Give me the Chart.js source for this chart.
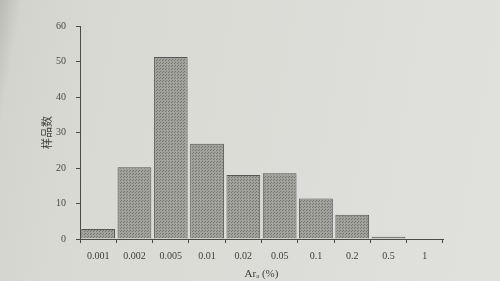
<!DOCTYPE html>
<html>
<head>
<meta charset="utf-8">
<script src="https://cdn.jsdelivr.net/npm/chart.js@4"></script>
<style>
  html, body { margin: 0; padding: 0; }
  body {
    width: 500px; height: 281px; overflow: hidden;
    background: linear-gradient(100deg, #b9bab2 0px, #d3d4cd 22px, #d9dad4 120px, #dcddd8 330px, #e0e1dd 500px);
  }
  #wrap { position: relative; width: 500px; height: 281px; }
</style>
</head>
<body>
<div id="wrap"><canvas id="hist" width="500" height="281"></canvas></div>
<script>
// categories (Ar_a, %)
const categories = ['0.001', '0.002', '0.005', '0.01', '0.02', '0.05', '0.1', '0.2', '0.5', '1'];
// sample counts
const counts = [2.8, 20.2, 51.3, 26.8, 18, 18.5, 11.4, 6.8, 0.6, 0];
const yTicks = [0, 10, 20, 30, 40, 50, 60];

// dotted grey fill like the print
function dotPattern() {
  const c = document.createElement('canvas');
  c.width = 3; c.height = 3;
  const g = c.getContext('2d');
  g.fillStyle = '#a2a29d';
  g.fillRect(0, 0, 3, 3);
  g.fillStyle = '#76766f';
  g.fillRect(0, 0, 1, 1);
  g.fillRect(1, 2, 1, 1);
  return g.createPattern(c, 'repeat');
}

const ink = '#4a4a48';
const serif = "'Liberation Serif', 'DejaVu Serif', serif";

const ctx = document.getElementById('hist').getContext('2d');
const hist = new Chart(ctx, {
  type: 'bar',
  data: {
    labels: categories,
    datasets: [{
      data: counts,
      backgroundColor: dotPattern(),
      borderColor: '#555553',
      borderWidth: 1,
      barPercentage: 0.93,
      categoryPercentage: 1
    }]
  },
  options: {
    responsive: false,
    animation: false,
    layout: { padding: { left: 36, right: 57, top: 26, bottom: 0 } },
    plugins: { legend: { display: false }, tooltip: { enabled: false } },
    scales: {
      x: {
        offset: true,
        grid: { offset: true, drawOnChartArea: false, drawTicks: true, tickLength: 4, color: ink },
        border: { color: ink, width: 1 },
        ticks: { color: '#3e3e3c', padding: 7, autoSkip: false, font: { family: serif, size: 10 }, maxRotation: 0 },
        title: {
          display: true, text: 'Arₐ (%)', color: '#3e3e3c',
          font: { family: serif, size: 11 }, padding: { top: 2, bottom: 0 }
        },
        afterFit: s => { s.height = 42; }
      },
      y: {
        min: 0, max: 60,
        afterBuildTicks: s => { s.ticks = yTicks.map(v => ({ value: v })); },
        grid: { drawOnChartArea: false, drawTicks: true, tickLength: 4, color: ink },
        border: { color: ink, width: 1 },
        ticks: { color: '#4a4a48', padding: 10, autoSkip: false, font: { family: serif, size: 10 } },
        title: {
          display: true, text: '样品数', color: '#3e3e3c',
          font: { family: "'Noto Sans CJK SC', sans-serif", size: 11 }, padding: { top: 4, bottom: 0 }
        },
        afterFit: s => { s.width = 44; }
      }
    }
  }
});
</script>
</body>
</html>
